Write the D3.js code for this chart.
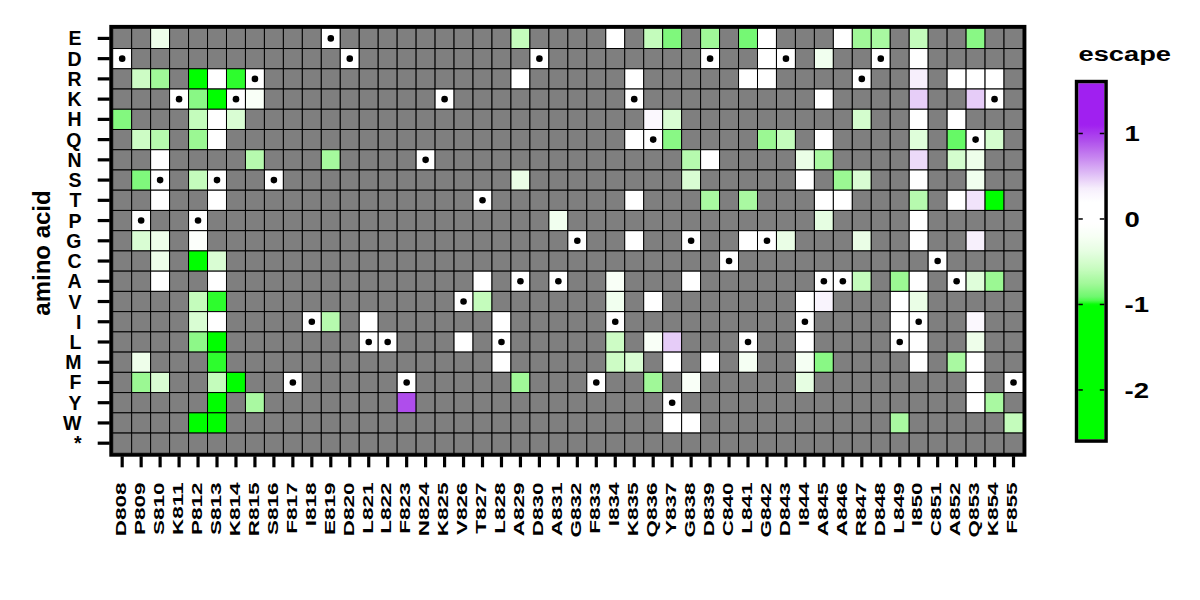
<!DOCTYPE html>
<html>
<head>
<meta charset="utf-8">
<script src="https://cdn.jsdelivr.net/npm/d3@7"></script>
<style>
  html, body { margin: 0; padding: 0; background: #fff; }
  svg { display: block; }
  text { font-family: "Liberation Sans", Arial, Helvetica, sans-serif; font-weight: bold; fill: #000; }
</style>
</head>
<body>
<svg id="chart" width="1200" height="600"></svg>
<script>
// ---------------- data ----------------
const sites = ["D808","P809","S810","K811","P812","S813","K814","R815","S816","F817","I818","E819",
  "D820","L821","L822","F823","N824","K825","V826","T827","L828","A829","D830","A831",
  "G832","F833","I834","K835","Q836","Y837","G838","D839","C840","L841","G842","D843",
  "I844","A845","A846","R847","D848","L849","I850","C851","A852","Q853","K854","F855"];

const aminoAcids = ["E","D","R","K","H","Q","N","S","T","P","G","C","A","V","I","L","M","F","Y","W","*"];

// measured escape values: [site, mutant amino acid, escape]
const escapeValues = [
  ["D808","H",-0.85],
  ["P809","R",-0.55],["P809","Q",-0.55],["P809","S",-0.86],["P809","G",-0.47],["P809","M",-0.3],["P809","F",-0.78],
  ["S810","E",-0.3],["S810","R",-0.76],["S810","Q",-0.66],["S810","N",0.02],["S810","G",-0.3],["S810","C",-0.3],
  ["S810","A",0.03],["S810","T",0.05],["S810","F",-0.47],
  ["P812","R",-1.8],["P812","K",-0.83],["P812","H",-0.6],["P812","Q",-0.78],["P812","S",-0.6],["P812","G",-0.12],
  ["P812","C",-1.7],["P812","V",-0.6],["P812","I",-0.47],["P812","L",-0.82],["P812","W",-1.6],
  ["S813","R",0.05],["S813","K",-2.1],["S813","H",0.02],["S813","Q",0.04],["S813","T",0.03],["S813","C",-0.47],
  ["S813","A",0.02],["S813","V",-0.975],["S813","I",0.04],["S813","L",-1.5],["S813","M",-0.975],["S813","F",-0.6],
  ["S813","Y",-2.3],["S813","W",-2.0],
  ["K814","R",-0.975],["K814","H",-0.47],["K814","F",-2.0],
  ["R815","K",-0.17],["R815","N",-0.66],["R815","Y",-0.72],
  ["E819","N",-0.74],["E819","I",-0.66],
  ["L821","I",0.03],
  ["F823","Y",0.92],
  ["V826","L",0.04],
  ["T827","A",0.05],["T827","V",-0.6],
  ["L828","I",0.02],["L828","M",0.03],
  ["A829","E",-0.6],["A829","R",0.05],["A829","S",-0.34],["A829","F",-0.76],
  ["A831","P",-0.26],
  ["I834","E",0.03],["I834","A",-0.17],["I834","V",-0.26],["I834","L",-0.55],["I834","M",-0.55],
  ["K835","R",0.04],["K835","Q",0.03],["K835","T",0.02],["K835","G",0.05],["K835","M",-0.47],
  ["Q836","E",-0.6],["Q836","H",0.27],["Q836","V",0.04],["Q836","L",-0.17],["Q836","F",-0.76],
  ["Y837","E",-0.86],["Y837","H",-0.47],["Y837","Q",-0.83],["Y837","L",0.48],["Y837","M",0.05],["Y837","W",0.06],
  ["G838","N",-0.66],["G838","S",-0.47],["G838","A",0.03],["G838","F",-0.17],["G838","W",0.02],
  ["D839","E",-0.76],["D839","N",0.04],["D839","T",-0.72],["D839","M",0.05],
  ["L841","E",-0.89],["L841","R",0.04],["L841","T",-0.72],["L841","G",0.03],["L841","M",-0.22],
  ["G842","E",0.05],["G842","D",0.03],["G842","R",0.06],["G842","Q",-0.78],
  ["D843","Q",-0.6],["D843","G",-0.34],
  ["I844","N",-0.34],["I844","S",0.03],["I844","V",0.04],["I844","L",0.02],["I844","M",-0.22],["I844","F",-0.38],
  ["A845","D",-0.26],["A845","K",0.03],["A845","Q",0.04],["A845","N",-0.72],["A845","T",0.05],["A845","P",-0.38],
  ["A845","V",0.3],["A845","M",-0.83],
  ["A846","E",0.04],["A846","S",-0.78],["A846","T",0.02],
  ["R847","E",-0.76],["R847","H",-0.5],["R847","S",-0.47],["R847","G",-0.34],["R847","A",-0.6],
  ["D848","E",-0.72],
  ["L849","A",-0.78],["L849","V",0.03],["L849","I",0.05],["L849","W",-0.72],
  ["I850","E",-0.6],["I850","D",0.04],["I850","R",0.35],["I850","K",0.47],["I850","H",0.05],["I850","Q",-0.43],
  ["I850","N",0.43],["I850","S",0.03],["I850","T",-0.66],["I850","P",0.02],["I850","G",0.06],["I850","A",0.04],
  ["I850","V",-0.34],["I850","L",0.03],["I850","M",0.05],
  ["A852","R",0.02],["A852","H",0.04],["A852","Q",-0.92],["A852","N",-0.5],["A852","T",0.03],["A852","M",-0.72],
  ["Q853","E",-0.83],["Q853","R",0.05],["Q853","K",0.48],["Q853","N",-0.3],["Q853","S",-0.26],["Q853","T",0.4],
  ["Q853","G",0.34],["Q853","A",-0.43],["Q853","I",0.27],["Q853","L",-0.3],["Q853","M",0.04],["Q853","F",0.03],
  ["Q853","Y",0.02],
  ["K854","R",0.03],["K854","Q",-0.5],["K854","T",-2.2],["K854","A",-0.78],["K854","Y",-0.72],
  ["F855","W",-0.6]
];

const colorbarTicks = [-2, -1, 0, 1];
const colorbarDomain = [-2.577, 1.587];
const colorStops = [-1.0, -0.96, -0.91, -0.77, -0.58, -0.38, -0.19, -0.05, 0.2, 0.36, 0.52, 0.71, 0.91, 1.1];
const colorRange = ["#00ff00","#48fb48","#6ef86e","#9ef896","#c8fcc0","#e6fee2","#f8fff6","#ffffff",
                    "#ffffff","#f6eefc","#e0c0f6","#c888f0","#b050ec","#a020f0"];

// ---------------- drawing ----------------
const svg = d3.select("#chart");
const X0 = 112.7, X1 = 1023, Y0 = 28.3, Y1 = 453.3;

const x = d3.scaleBand().domain(sites).range([X0, X1]).padding(0);
const y = d3.scaleBand().domain(aminoAcids).range([Y0, Y1]).padding(0);
const color = d3.scaleLinear().domain(colorStops).range(colorRange).clamp(true);

// build cell table: wildtype cells (value 0) + measured
const lookup = new Map();
sites.forEach(s => lookup.set(s + "|" + s[0], { site: s, aa: s[0], value: 0, wt: true }));
escapeValues.forEach(([s, a, v]) => lookup.set(s + "|" + a, { site: s, aa: a, value: v, wt: false }));

const cells = [];
sites.forEach(s => aminoAcids.forEach(a => {
  const c = lookup.get(s + "|" + a);
  cells.push(c ? c : { site: s, aa: a, value: null, wt: false });
}));

svg.append("g").selectAll("rect").data(cells).join("rect")
  .attr("x", d => x(d.site))
  .attr("y", d => y(d.aa))
  .attr("width", x.bandwidth())
  .attr("height", y.bandwidth())
  .attr("fill", d => d.value === null ? "#7f7f7f" : color(d.value))
  .attr("stroke", "#000")
  .attr("stroke-width", 1);

svg.append("g").selectAll("circle").data(cells.filter(d => d.wt)).join("circle")
  .attr("cx", d => x(d.site) + x.bandwidth() / 2)
  .attr("cy", d => y(d.aa) + y.bandwidth() / 2)
  .attr("r", 3.3)
  .attr("fill", "#000");

// panel border
svg.append("rect")
  .attr("x", X0 - 1.7).attr("y", Y0 - 1.7)
  .attr("width", X1 - X0 + 3.4).attr("height", Y1 - Y0 + 3.4)
  .attr("fill", "none").attr("stroke", "#000").attr("stroke-width", 3.4);

// y axis
const yAxis = d3.axisLeft(y).tickSize(12).tickPadding(0).tickFormat("");
const gy = svg.append("g").attr("transform", `translate(${X0 - 3},0)`).call(yAxis);
gy.select(".domain").remove();
gy.selectAll(".tick line").attr("stroke", "#000").attr("stroke-width", 3.2);
svg.append("g").selectAll("text").data(aminoAcids).join("text")
  .attr("x", 81.5)
  .attr("y", d => y(d) + y.bandwidth() / 2)
  .attr("text-anchor", "end")
  .attr("dominant-baseline", "central")
  .style("font-size", "19.5px")
  .text(d => d);

// x axis
const xAxis = d3.axisBottom(x).tickSize(11).tickPadding(0).tickFormat("");
const gx = svg.append("g").attr("transform", `translate(0,${Y1 + 3})`).call(xAxis);
gx.select(".domain").remove();
gx.selectAll(".tick line").attr("stroke", "#000").attr("stroke-width", 3.2);
svg.append("g").selectAll("text").data(sites).join("text")
  .attr("transform", d => `translate(${x(d) + x.bandwidth() / 2 + 3.8},482.5) rotate(-90) scale(1.5,1)`)
  .attr("text-anchor", "end")
  .style("font-size", "15px")
  .text(d => d);

// y title
svg.append("text")
  .attr("transform", "translate(50,253) rotate(-90)")
  .attr("text-anchor", "middle")
  .style("font-size", "24px")
  .text("amino acid");

// ---------------- legend ----------------
const LX0 = 1078.3, LX1 = 1104.3, LY0 = 83.3, LY1 = 439.3;
const ly = d3.scaleLinear().domain(colorbarDomain).range([LY1, LY0]);

const defs = svg.append("defs");
const grad = defs.append("linearGradient").attr("id", "escgrad")
  .attr("x1", 0).attr("y1", 1).attr("x2", 0).attr("y2", 0);
const nStops = 200;
d3.range(nStops + 1).forEach(i => {
  const v = colorbarDomain[0] + (colorbarDomain[1] - colorbarDomain[0]) * i / nStops;
  grad.append("stop").attr("offset", (i / nStops)).attr("stop-color", color(v));
});
svg.append("rect")
  .attr("x", LX0).attr("y", LY0).attr("width", LX1 - LX0).attr("height", LY1 - LY0)
  .attr("fill", "url(#escgrad)");

svg.append("g").selectAll("line").data(colorbarTicks.flatMap(t => [[t, LX0, LX0 + 4.5], [t, LX1 - 4.5, LX1]]))
  .join("line")
  .attr("x1", d => d[1]).attr("x2", d => d[2])
  .attr("y1", d => ly(d[0])).attr("y2", d => ly(d[0]))
  .attr("stroke", "#000").attr("stroke-width", 1.5);

svg.append("rect")
  .attr("x", LX0 - 1.75).attr("y", LY0 - 1.75)
  .attr("width", LX1 - LX0 + 3.5).attr("height", LY1 - LY0 + 3.5)
  .attr("fill", "none").attr("stroke", "#000").attr("stroke-width", 3.5);

svg.append("g").selectAll("text").data(colorbarTicks).join("text")
  .attr("transform", d => `translate(1124.5,${ly(d)}) scale(1.25,1)`)
  .attr("dominant-baseline", "central")
  .style("font-size", "22px")
  .text(d => String(d));

svg.append("text")
  .attr("transform", "translate(1078.5,61) scale(1.3,1)")
  .style("font-size", "21px")
  .text("escape");
</script>
</body>
</html>
